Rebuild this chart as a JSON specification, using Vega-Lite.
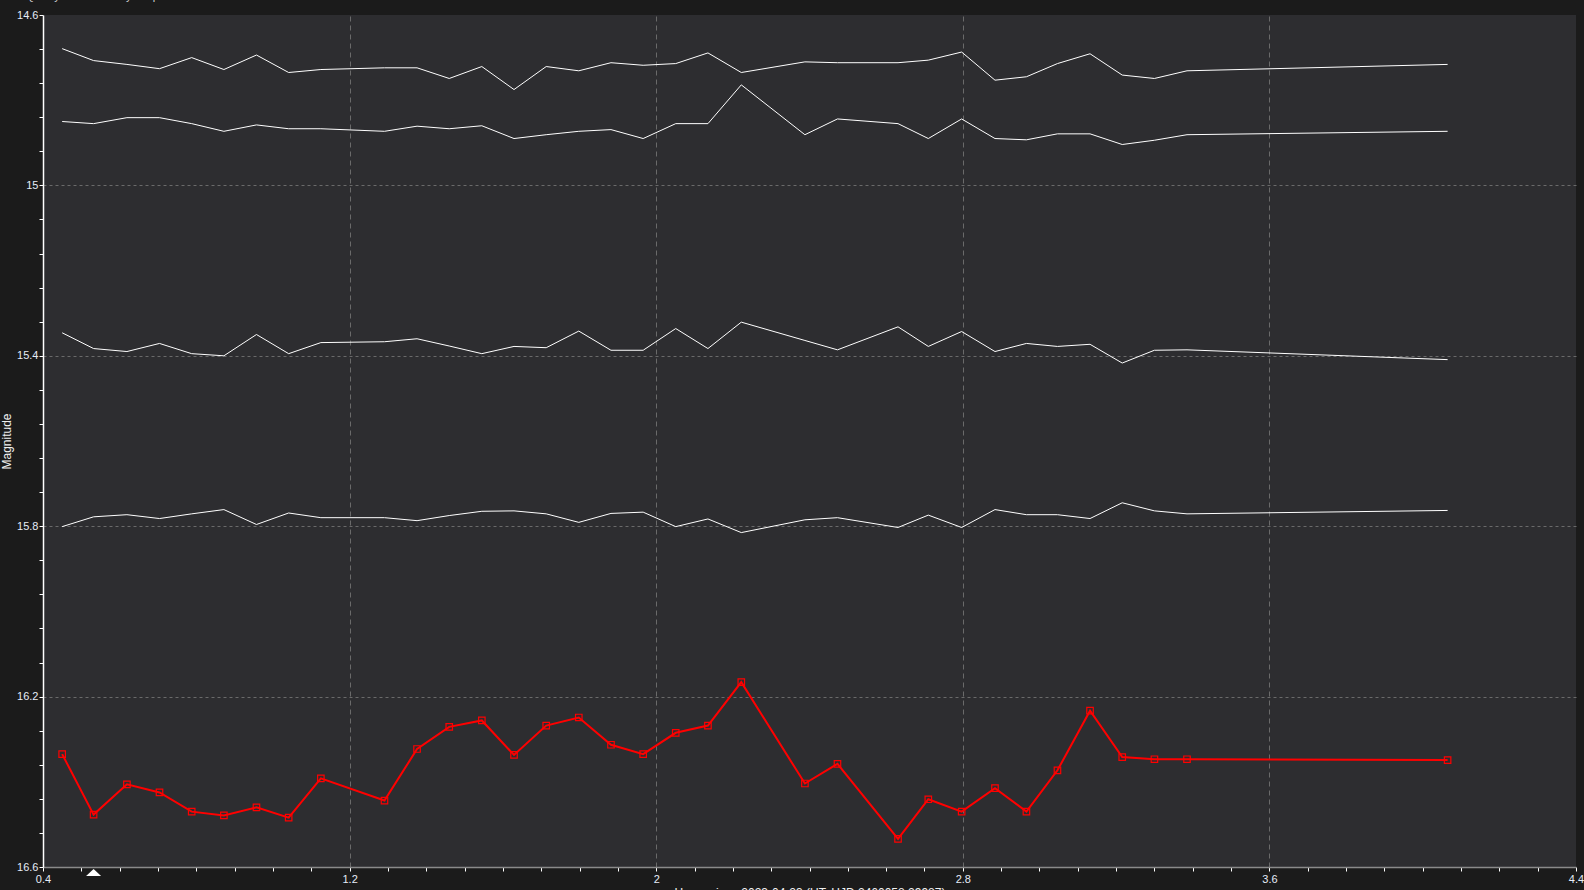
{
  "$schema": "https://vega.github.io/schema/vega-lite/v6.json",
  "width": 1533,
  "height": 852,
  "autosize": {"type": "none"},
  "padding": {"left": 43, "top": 15, "right": 8, "bottom": 23},
  "background": "#1b1b1b",
  "title": {
    "text": "Select    Quality    Match    Identify    Graph",
    "anchor": "start",
    "frame": "group",
    "baseline": "alphabetic",
    "dx": -51,
    "dy": 8,
    "offset": 6,
    "font": "Liberation Sans",
    "fontSize": 11,
    "fontWeight": "normal",
    "color": "#cfcfcf"
  },
  "config": {
    "view": {"fill": "#2d2d30", "stroke": null},
    "axis": {
      "labelFont": "Liberation Sans",
      "labelFontSize": 11,
      "labelColor": "#e6ecf8",
      "labelFlush": false,
      "labelOverlap": false,
      "tickColor": "#ffffff",
      "tickSize": 4,
      "tickCount": 200,
      "titleFont": "Liberation Sans",
      "titleFontSize": 12,
      "titleFontWeight": "normal",
      "titleColor": "#f0f0f0"
    }
  },
  "datasets": {
    "obs": [
      {"t":0.450,"s":"A","m":14.679},{"t":0.532,"s":"A","m":14.707},{"t":0.619,"s":"A","m":14.716},{"t":0.704,"s":"A","m":14.726},{"t":0.788,"s":"A","m":14.700},{"t":0.872,"s":"A","m":14.728},{"t":0.957,"s":"A","m":14.694},{"t":1.041,"s":"A","m":14.735},{"t":1.125,"s":"A","m":14.728},{"t":1.291,"s":"A","m":14.724},{"t":1.376,"s":"A","m":14.724},{"t":1.460,"s":"A","m":14.749},{"t":1.545,"s":"A","m":14.721},{"t":1.629,"s":"A","m":14.775},{"t":1.713,"s":"A","m":14.721},{"t":1.798,"s":"A","m":14.731},{"t":1.882,"s":"A","m":14.712},{"t":1.966,"s":"A","m":14.718},{"t":2.051,"s":"A","m":14.714},{"t":2.135,"s":"A","m":14.689},{"t":2.222,"s":"A","m":14.735},{"t":2.388,"s":"A","m":14.710},{"t":2.473,"s":"A","m":14.712},{"t":2.631,"s":"A","m":14.712},{"t":2.710,"s":"A","m":14.706},{"t":2.797,"s":"A","m":14.687},{"t":2.884,"s":"A","m":14.753},{"t":2.966,"s":"A","m":14.745},{"t":3.047,"s":"A","m":14.714},{"t":3.132,"s":"A","m":14.691},{"t":3.216,"s":"A","m":14.741},{"t":3.300,"s":"A","m":14.749},{"t":3.385,"s":"A","m":14.731},{"t":4.065,"s":"A","m":14.716},
      {"t":0.450,"s":"B","m":14.850},{"t":0.532,"s":"B","m":14.855},{"t":0.619,"s":"B","m":14.841},{"t":0.704,"s":"B","m":14.841},{"t":0.788,"s":"B","m":14.855},{"t":0.872,"s":"B","m":14.873},{"t":0.957,"s":"B","m":14.858},{"t":1.041,"s":"B","m":14.867},{"t":1.125,"s":"B","m":14.867},{"t":1.291,"s":"B","m":14.873},{"t":1.376,"s":"B","m":14.861},{"t":1.460,"s":"B","m":14.867},{"t":1.545,"s":"B","m":14.860},{"t":1.629,"s":"B","m":14.890},{"t":1.713,"s":"B","m":14.881},{"t":1.798,"s":"B","m":14.873},{"t":1.882,"s":"B","m":14.869},{"t":1.966,"s":"B","m":14.890},{"t":2.051,"s":"B","m":14.855},{"t":2.135,"s":"B","m":14.855},{"t":2.222,"s":"B","m":14.764},{"t":2.388,"s":"B","m":14.881},{"t":2.473,"s":"B","m":14.844},{"t":2.631,"s":"B","m":14.855},{"t":2.710,"s":"B","m":14.890},{"t":2.797,"s":"B","m":14.844},{"t":2.884,"s":"B","m":14.890},{"t":2.966,"s":"B","m":14.893},{"t":3.047,"s":"B","m":14.879},{"t":3.132,"s":"B","m":14.879},{"t":3.216,"s":"B","m":14.904},{"t":3.300,"s":"B","m":14.894},{"t":3.385,"s":"B","m":14.881},{"t":4.065,"s":"B","m":14.873},
      {"t":0.450,"s":"C","m":15.346},{"t":0.532,"s":"C","m":15.383},{"t":0.619,"s":"C","m":15.390},{"t":0.704,"s":"C","m":15.371},{"t":0.788,"s":"C","m":15.395},{"t":0.872,"s":"C","m":15.400},{"t":0.957,"s":"C","m":15.350},{"t":1.041,"s":"C","m":15.395},{"t":1.125,"s":"C","m":15.369},{"t":1.291,"s":"C","m":15.367},{"t":1.376,"s":"C","m":15.360},{"t":1.460,"s":"C","m":15.377},{"t":1.545,"s":"C","m":15.395},{"t":1.629,"s":"C","m":15.378},{"t":1.713,"s":"C","m":15.381},{"t":1.798,"s":"C","m":15.342},{"t":1.882,"s":"C","m":15.387},{"t":1.966,"s":"C","m":15.387},{"t":2.051,"s":"C","m":15.336},{"t":2.135,"s":"C","m":15.383},{"t":2.222,"s":"C","m":15.321},{"t":2.388,"s":"C","m":15.364},{"t":2.473,"s":"C","m":15.386},{"t":2.631,"s":"C","m":15.332},{"t":2.710,"s":"C","m":15.378},{"t":2.797,"s":"C","m":15.343},{"t":2.884,"s":"C","m":15.390},{"t":2.966,"s":"C","m":15.371},{"t":3.047,"s":"C","m":15.378},{"t":3.132,"s":"C","m":15.373},{"t":3.216,"s":"C","m":15.417},{"t":3.300,"s":"C","m":15.387},{"t":3.385,"s":"C","m":15.386},{"t":4.065,"s":"C","m":15.409},
      {"t":0.450,"s":"D","m":15.801},{"t":0.532,"s":"D","m":15.778},{"t":0.619,"s":"D","m":15.773},{"t":0.704,"s":"D","m":15.782},{"t":0.788,"s":"D","m":15.771},{"t":0.872,"s":"D","m":15.761},{"t":0.957,"s":"D","m":15.796},{"t":1.041,"s":"D","m":15.769},{"t":1.125,"s":"D","m":15.780},{"t":1.291,"s":"D","m":15.780},{"t":1.376,"s":"D","m":15.787},{"t":1.460,"s":"D","m":15.775},{"t":1.545,"s":"D","m":15.765},{"t":1.629,"s":"D","m":15.764},{"t":1.713,"s":"D","m":15.771},{"t":1.798,"s":"D","m":15.791},{"t":1.882,"s":"D","m":15.770},{"t":1.966,"s":"D","m":15.767},{"t":2.051,"s":"D","m":15.801},{"t":2.135,"s":"D","m":15.783},{"t":2.222,"s":"D","m":15.815},{"t":2.388,"s":"D","m":15.785},{"t":2.473,"s":"D","m":15.780},{"t":2.631,"s":"D","m":15.803},{"t":2.710,"s":"D","m":15.774},{"t":2.797,"s":"D","m":15.803},{"t":2.884,"s":"D","m":15.761},{"t":2.966,"s":"D","m":15.773},{"t":3.047,"s":"D","m":15.773},{"t":3.132,"s":"D","m":15.782},{"t":3.216,"s":"D","m":15.745},{"t":3.300,"s":"D","m":15.764},{"t":3.385,"s":"D","m":15.771},{"t":4.065,"s":"D","m":15.763},
      {"t":0.450,"s":"V","m":16.335},{"t":0.532,"s":"V","m":16.477},{"t":0.619,"s":"V","m":16.406},{"t":0.704,"s":"V","m":16.425},{"t":0.788,"s":"V","m":16.470},{"t":0.872,"s":"V","m":16.479},{"t":0.957,"s":"V","m":16.460},{"t":1.041,"s":"V","m":16.484},{"t":1.125,"s":"V","m":16.392},{"t":1.291,"s":"V","m":16.444},{"t":1.376,"s":"V","m":16.323},{"t":1.460,"s":"V","m":16.271},{"t":1.545,"s":"V","m":16.256},{"t":1.629,"s":"V","m":16.337},{"t":1.713,"s":"V","m":16.268},{"t":1.798,"s":"V","m":16.249},{"t":1.882,"s":"V","m":16.313},{"t":1.966,"s":"V","m":16.335},{"t":2.051,"s":"V","m":16.285},{"t":2.135,"s":"V","m":16.268},{"t":2.222,"s":"V","m":16.166},{"t":2.388,"s":"V","m":16.404},{"t":2.473,"s":"V","m":16.358},{"t":2.631,"s":"V","m":16.534},{"t":2.710,"s":"V","m":16.441},{"t":2.797,"s":"V","m":16.470},{"t":2.884,"s":"V","m":16.415},{"t":2.966,"s":"V","m":16.470},{"t":3.047,"s":"V","m":16.373},{"t":3.132,"s":"V","m":16.233},{"t":3.216,"s":"V","m":16.342},{"t":3.300,"s":"V","m":16.347},{"t":3.385,"s":"V","m":16.347},{"t":4.065,"s":"V","m":16.349}
    ],
    "cursor": [{"t": 0.532, "m": 16.613}]
  },
  "layer": [
    {
      "data": {"name": "obs"},
      "transform": [{"filter": "datum.s !== 'V'"}],
      "mark": {"type": "line", "color": "#ffffff", "strokeWidth": 1},
      "encoding": {
        "x": {
          "field": "t", "type": "quantitative",
          "scale": {"domain": [0.4, 4.4], "nice": false, "zero": false},
          "axis": {
            "values": [0.4,0.5,0.6,0.7,0.8,0.9,1.0,1.1,1.2,1.3,1.4,1.5,1.6,1.7,1.8,1.9,2.0,2.1,2.2,2.3,2.4,2.5,2.6,2.7,2.8,2.9,3.0,3.1,3.2,3.3,3.4,3.5,3.6,3.7,3.8,3.9,4.0,4.1,4.2,4.3,4.4],
            "tickCount": 200,
            "format": "~g",
            "labelExpr": "abs((datum.value-0.4)/0.8 - round((datum.value-0.4)/0.8)) < 0.01 ? datum.label : ''",
            "labelPadding": 2,
            "grid": true,
            "gridColor": "#6a6a6a",
            "gridDash": [5, 4],
            "gridOpacity": {"condition": {"test": "abs((datum.value-0.4)/0.8 - round((datum.value-0.4)/0.8)) < 0.01 && datum.value > 0.5 && datum.value < 4.3", "value": 1}, "value": 0},
            "domainColor": "#8a8a8a",
            "domainWidth": 1.5,
            "title": "Hours since 2023-04-23 (UT, HJD 2460058.29987)",
            "titlePadding": 3
          }
        },
        "y": {
          "field": "m", "type": "quantitative",
          "scale": {"domain": [14.6, 16.6], "reverse": true, "nice": false, "zero": false},
          "axis": {
            "values": [14.6,14.68,14.76,14.84,14.92,15,15.08,15.16,15.24,15.32,15.4,15.48,15.56,15.64,15.72,15.8,15.88,15.96,16.04,16.12,16.2,16.28,16.36,16.44,16.52,16.6],
            "tickCount": 200,
            "format": "~g",
            "labelExpr": "abs((datum.value-14.6)/0.4 - round((datum.value-14.6)/0.4)) < 0.01 ? datum.label : ''",
            "labelPadding": 1,
            "grid": true,
            "gridColor": "#6a6a6a",
            "gridDash": [3, 3],
            "gridOpacity": {"condition": {"test": "abs((datum.value-14.6)/0.4 - round((datum.value-14.6)/0.4)) < 0.01 && datum.value > 14.65 && datum.value < 16.55", "value": 1}, "value": 0},
            "domainColor": "#ffffff",
            "domainWidth": 1.5,
            "title": "Magnitude",
            "titlePadding": 3
          }
        },
        "detail": {"field": "s", "type": "nominal"}
      }
    },
    {
      "mark": {"type": "rule", "color": "#ffffff", "strokeWidth": 1.2, "strokeDash": [4, 3]},
      "encoding": {
        "y": {"datum": 14.6, "type": "quantitative"}
      }
    },
    {
      "data": {"name": "obs"},
      "transform": [{"filter": "datum.s === 'V'"}],
      "mark": {"type": "line", "color": "#ff0000", "strokeWidth": 2},
      "encoding": {
        "x": {"field": "t", "type": "quantitative"},
        "y": {"field": "m", "type": "quantitative"}
      }
    },
    {
      "data": {"name": "obs"},
      "transform": [{"filter": "datum.s === 'V'"}],
      "mark": {"type": "point", "shape": "square", "filled": false, "color": "#ff0000", "strokeWidth": 1.2, "size": 42, "opacity": 1},
      "encoding": {
        "x": {"field": "t", "type": "quantitative"},
        "y": {"field": "m", "type": "quantitative"}
      }
    },
    {
      "data": {"name": "cursor"},
      "mark": {"type": "point", "shape": "M-1,0.47L1,0.47L0,-0.47Z", "filled": true, "color": "#ffffff", "size": 225, "opacity": 1},
      "encoding": {
        "x": {"field": "t", "type": "quantitative"},
        "y": {"field": "m", "type": "quantitative"}
      }
    }
  ]
}
